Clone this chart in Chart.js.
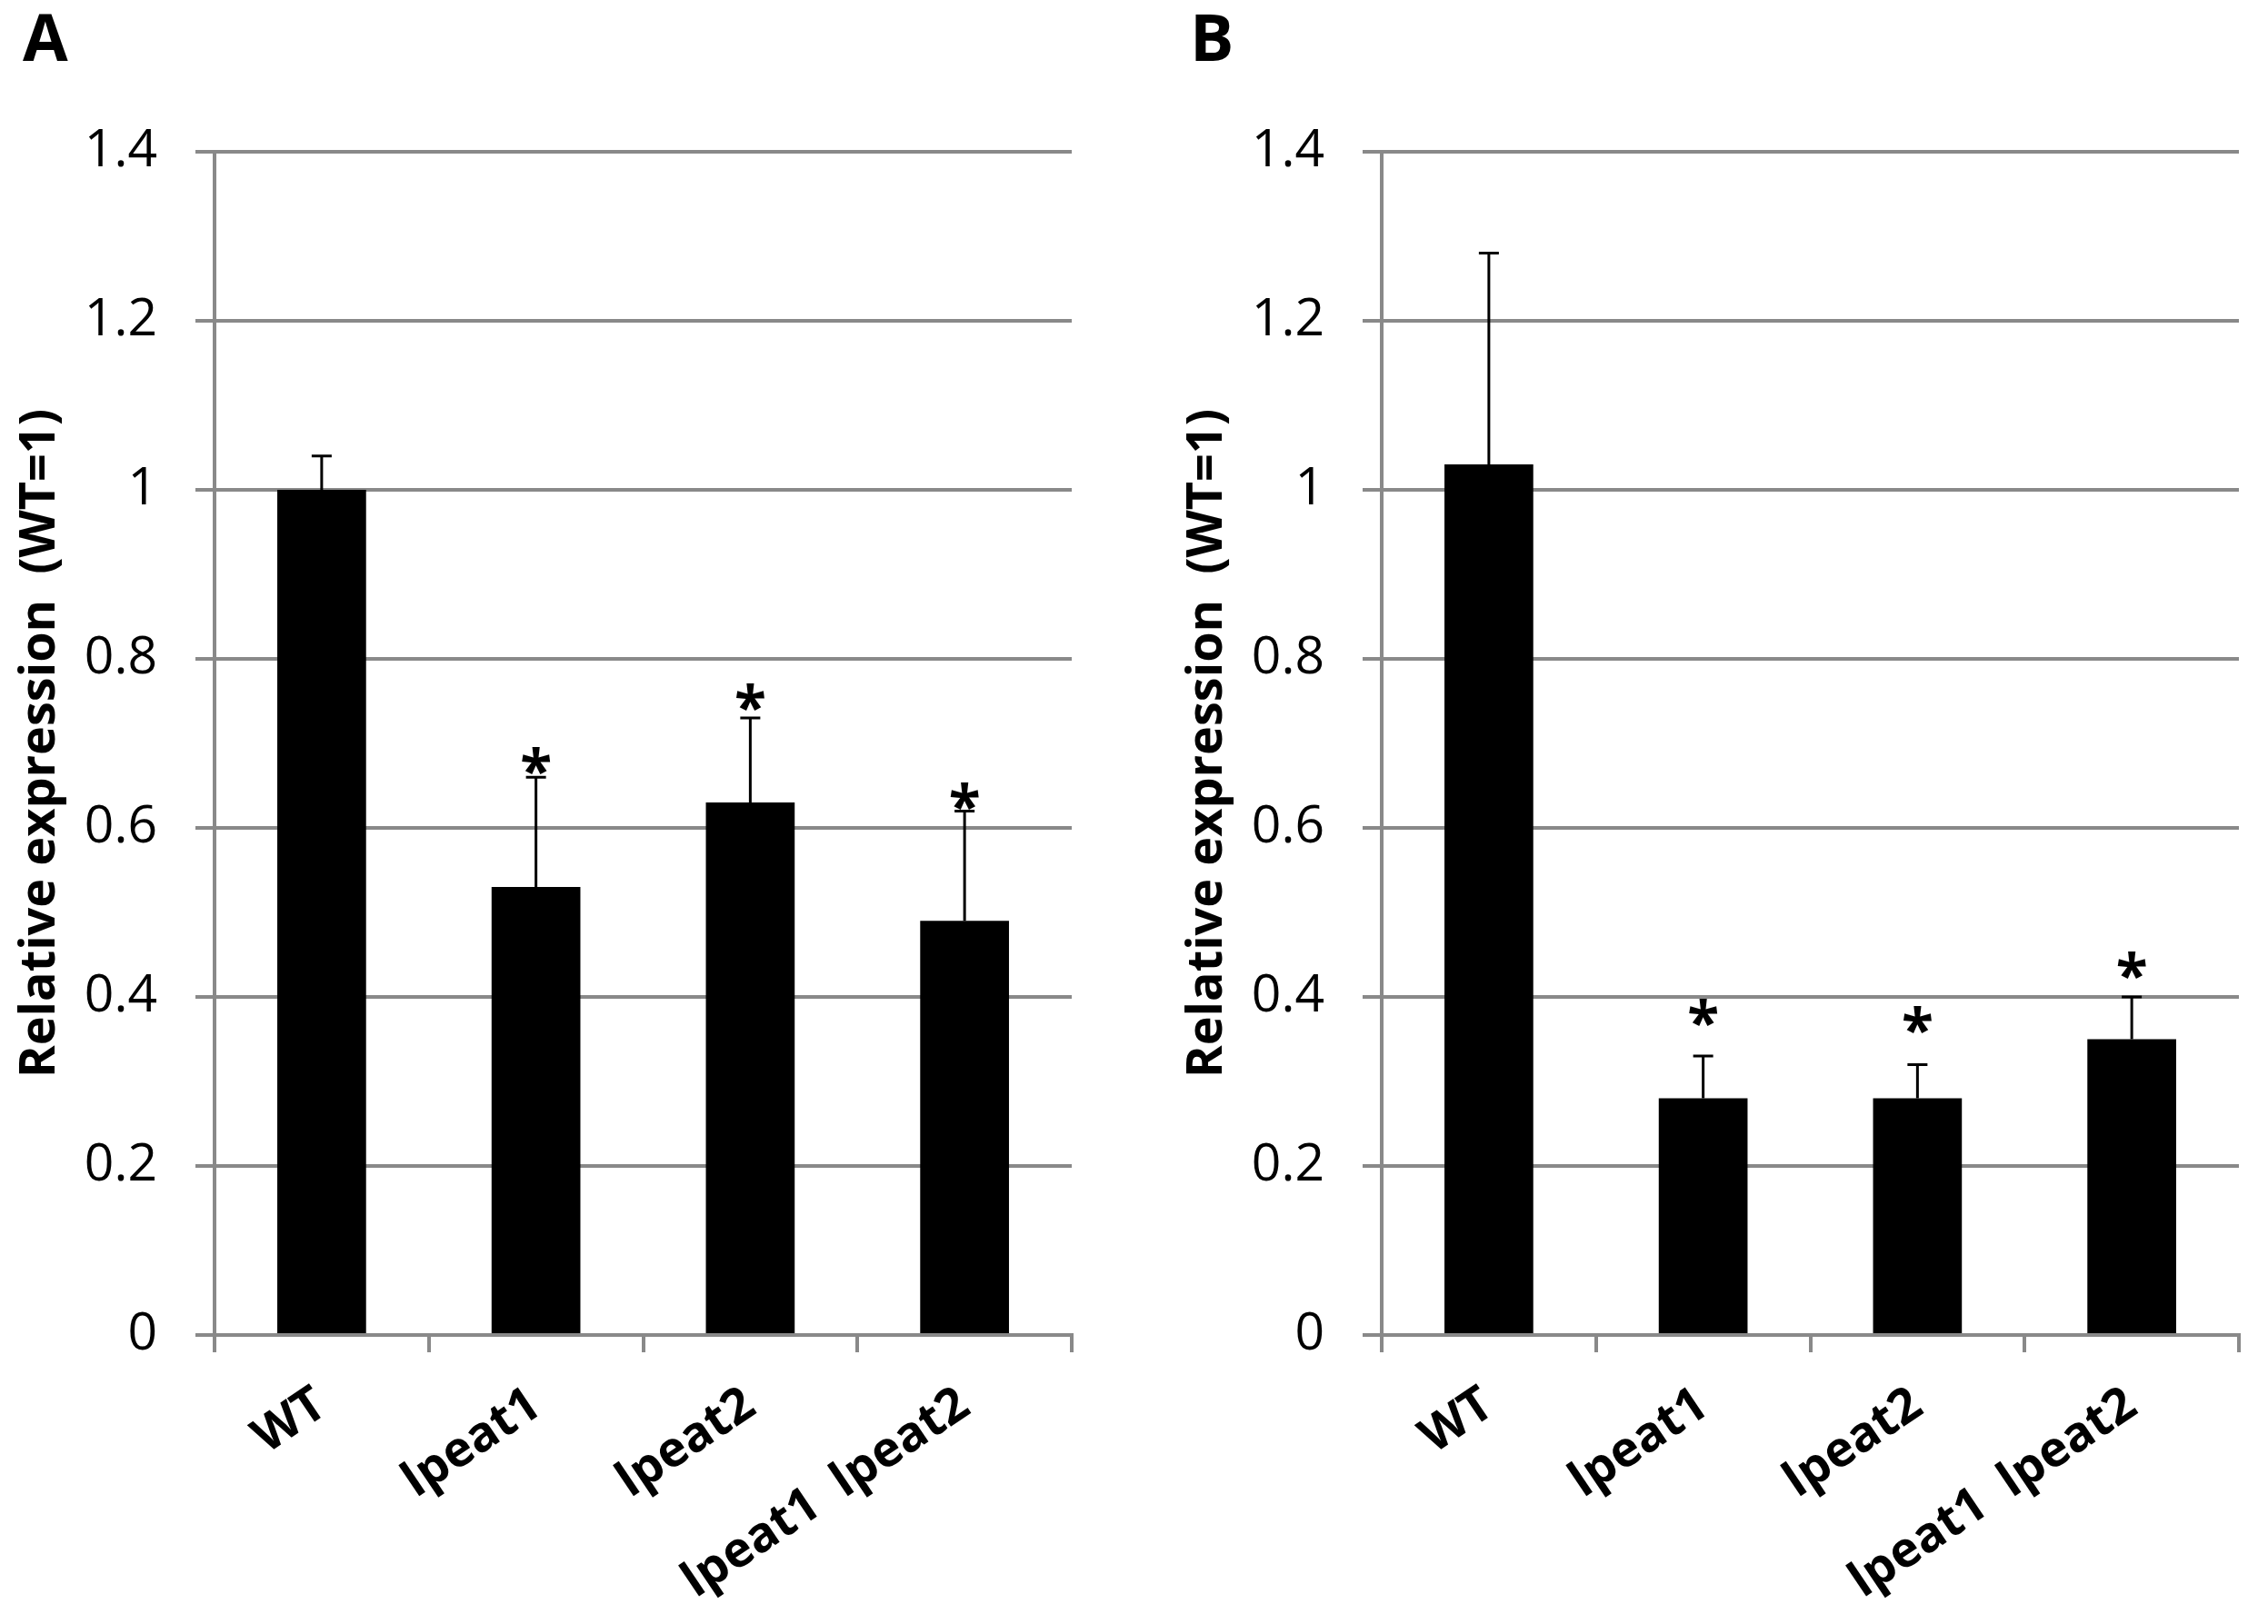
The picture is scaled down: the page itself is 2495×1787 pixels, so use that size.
<!DOCTYPE html>
<html><head><meta charset="utf-8">
<script src="https://cdn.jsdelivr.net/npm/chart.js@4.4.1/dist/chart.umd.min.js"></script>
<style>
html,body{margin:0;padding:0;background:#fff;}
body{width:2495px;height:1787px;position:relative;overflow:hidden;}
.panel{position:absolute;top:0;width:1211px;height:1787px;}
</style></head><body>
<div class="panel" style="left:0"><canvas id="cA"></canvas></div>
<div class="panel" style="left:1284px"><canvas id="cB"></canvas></div>
<script>
// ---- data ----
const categories = ['WT', 'lpeat1', 'lpeat2', 'lpeat1  lpeat2'];
const yTickLabels = ['0', '0.2', '0.4', '0.6', '0.8', '1', '1.2', '1.4'];
const panelLetters = ['A', 'B'];
const yTitle = 'Relative expression  (WT=1)';

const valuesA = [1.00, 0.53, 0.63, 0.49];
const errorsA = [0.04, 0.13, 0.10, 0.13];
const starsA  = [null, 0.679, 0.754, 0.637];

const valuesB = [1.03, 0.28, 0.28, 0.35];
const errorsB = [0.25, 0.05, 0.04, 0.05];
const starsB  = [null, 0.381, 0.373, 0.437];

const GRID = '#898989';
const FONT = "'Open Sans', 'Liberation Sans', sans-serif";

const decoPlugin = {
  id: 'deco',
  afterDatasetsDraw(chart, args, opts) {
    const ctx = chart.ctx;
    const y = chart.scales.y;
    const meta = chart.getDatasetMeta(0);
    ctx.save();
    ctx.strokeStyle = '#000';
    ctx.lineWidth = 3;
    meta.data.forEach((bar, i) => {
      const v = opts.values[i], e = opts.errors[i];
      const yTop = y.getPixelForValue(v + e);
      const yBase = y.getPixelForValue(v);
      ctx.beginPath();
      ctx.moveTo(bar.x, yBase);
      ctx.lineTo(bar.x, yTop);
      ctx.moveTo(bar.x - 11, yTop);
      ctx.lineTo(bar.x + 11, yTop);
      ctx.stroke();
      if (opts.stars[i] != null) {
        ctx.font = 'bold 64px ' + FONT;
        ctx.fillStyle = '#000';
        ctx.textAlign = 'center';
        ctx.textBaseline = 'alphabetic';
        const m = ctx.measureText('*');
        const cy = y.getPixelForValue(opts.stars[i]);
        const base = cy - (m.actualBoundingBoxDescent - m.actualBoundingBoxAscent) / 2;
        ctx.fillText('*', bar.x, base);
      }
    });
    ctx.restore();
  },
  afterDraw(chart, args, opts) {
    const ctx = chart.ctx;
    ctx.save();
    ctx.font = 'bold 72px ' + FONT;
    ctx.fillStyle = '#000';
    ctx.textAlign = 'left';
    ctx.textBaseline = 'alphabetic';
    ctx.fillText(opts.letter, 25, 67);
    ctx.restore();
  }
};

function makeChart(id, values, errors, stars, letter) {
  return new Chart(document.getElementById(id), {
    type: 'bar',
    data: {
      labels: categories,
      datasets: [{
        data: values,
        backgroundColor: '#000',
        borderWidth: 0,
        categoryPercentage: 1.0,
        barPercentage: 0.4144
      }]
    },
    options: {
      responsive: true,
      maintainAspectRatio: false,
      devicePixelRatio: 1,
      animation: false,
      layout: { padding: { top: 167, right: 32, bottom: 0, left: 0 } },
      plugins: {
        legend: { display: false },
        tooltip: { enabled: false },
        deco: { values: values, errors: errors, stars: stars, letter: letter }
      },
      scales: {
        y: {
          min: 0, max: 1.4,
          afterFit(s) { s.width = 236; },
          ticks: {
            stepSize: 0.2,
            padding: 42,
            color: '#000',
            font: { family: FONT, size: 57 },
            callback: (val, idx) => yTickLabels[idx]
          },
          grid: { color: GRID, lineWidth: 4, tickLength: 21, drawTicks: true },
          border: { display: true, color: GRID, width: 4 },
          title: {
            display: true,
            text: yTitle,
            color: '#000',
            font: { family: FONT, size: 54, weight: 'bold' },
            padding: { top: 12, bottom: 0 }
          }
        },
        x: {
          afterFit(s) { s.height = 318; },
          ticks: {
            autoSkip: false,
            minRotation: 34,
            maxRotation: 34,
            padding: 26,
            color: '#000',
            font: { family: FONT, size: 54, weight: 'bold' }
          },
          grid: { offset: true, drawOnChartArea: false, drawTicks: true, tickLength: 19, color: GRID, lineWidth: 4 },
          border: { display: true, color: GRID, width: 4 }
        }
      }
    },
    plugins: [decoPlugin]
  });
}

function build() {
  makeChart('cA', valuesA, errorsA, starsA, panelLetters[0]);
  makeChart('cB', valuesB, errorsB, starsB, panelLetters[1]);
}
const fontLoads = [
  document.fonts.load("57px 'Open Sans'"),
  document.fonts.load("bold 54px 'Open Sans'")
];
Promise.all(fontLoads).then(build, build);
</script>
</body></html>
